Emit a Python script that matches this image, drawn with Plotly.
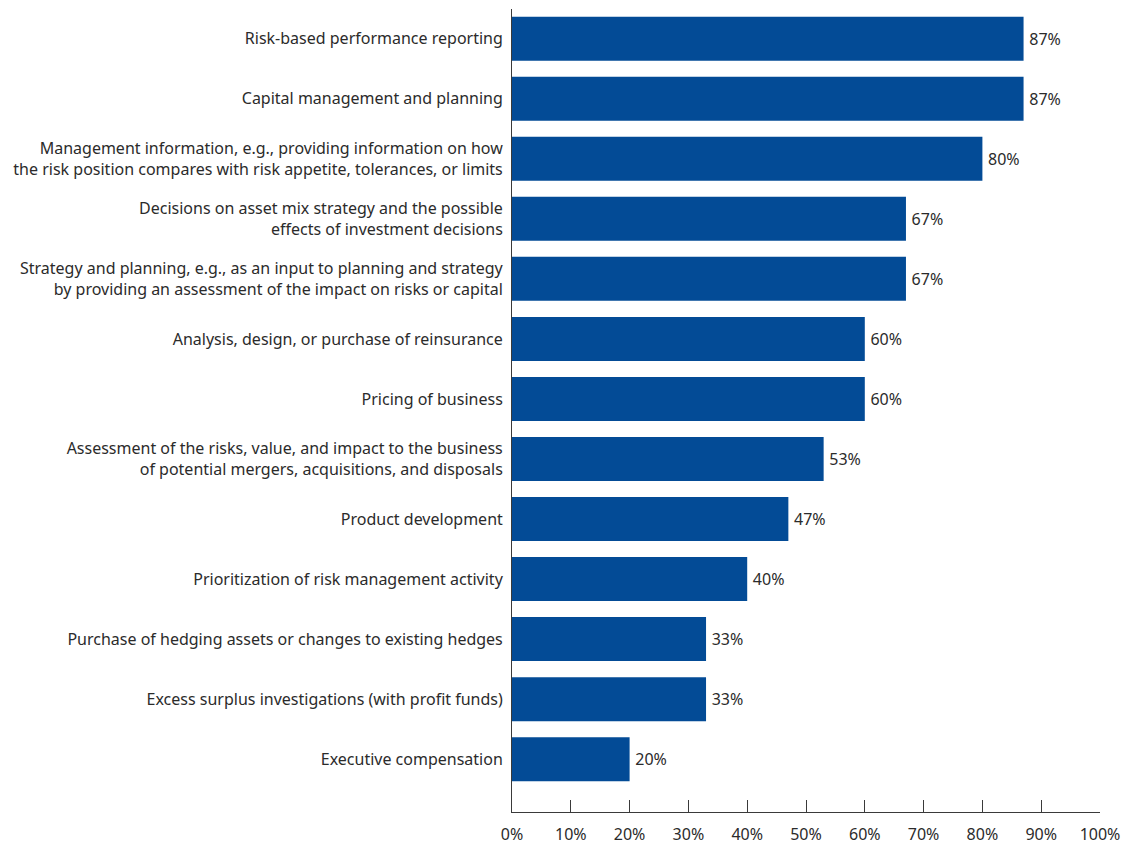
import plotly.graph_objects as go

categories = [
    "Risk-based performance reporting",
    "Capital management and planning",
    "Management information, e.g., providing information on how<br>the risk position compares with risk appetite, tolerances, or limits",
    "Decisions on asset mix strategy and the possible<br>effects of investment decisions",
    "Strategy and planning, e.g., as an input to planning and strategy<br>by providing an assessment of the impact on risks or capital",
    "Analysis, design, or purchase of reinsurance",
    "Pricing of business",
    "Assessment of the risks, value, and impact to the business<br>of potential mergers, acquisitions, and disposals",
    "Product development",
    "Prioritization of risk management activity",
    "Purchase of hedging assets or changes to existing hedges",
    "Excess surplus investigations (with profit funds)",
    "Executive compensation",
]
values = [87, 87, 80, 67, 67, 60, 60, 53, 47, 40, 33, 33, 20]
x_ticks = [0, 10, 20, 30, 40, 50, 60, 70, 80, 90, 100]
x_tick_labels = [f"{t}%" for t in x_ticks]

BAR_COLOR = "#034B96"
TEXT_COLOR = "#2b2b2b"
AXIS_COLOR = "#3a3a3a"
FONT = "Noto Sans, Open Sans, sans-serif"

fig = go.Figure(
    go.Bar(
        x=values,
        y=categories,
        orientation="h",
        marker=dict(color=BAR_COLOR, line=dict(width=0)),
        text=[f"\u2009{v}%" for v in values],
        textposition="outside",
        textfont=dict(size=16, color=TEXT_COLOR, family=FONT),
        cliponaxis=False,
        width=0.733,
    )
)

fig.update_layout(
    width=1140,
    height=844,
    margin=dict(l=512, r=40, t=9, b=32),
    paper_bgcolor="white",
    plot_bgcolor="white",
    showlegend=False,
    font=dict(family=FONT, size=16, color=TEXT_COLOR),
    xaxis=dict(
        range=[0, 100],
        tickvals=x_ticks,
        ticktext=x_tick_labels,
        showgrid=False,
        zeroline=False,
        showline=True,
        linecolor=AXIS_COLOR,
        linewidth=1,
        ticks="inside",
        ticklen=12,
        tickcolor=AXIS_COLOR,
        ticklabelstandoff=8,
        automargin=False,
        tickfont=dict(size=16, color=TEXT_COLOR),
    ),
    yaxis=dict(
        type="category",
        categoryorder="array",
        categoryarray=categories,
        range=[12.88, -0.495],
        showgrid=False,
        zeroline=False,
        showline=True,
        linecolor=AXIS_COLOR,
        linewidth=1,
        ticks="",
        ticklabelstandoff=5,
        automargin=False,
        tickfont=dict(size=16, color=TEXT_COLOR),
    ),
)

fig.write_html("out.html")
